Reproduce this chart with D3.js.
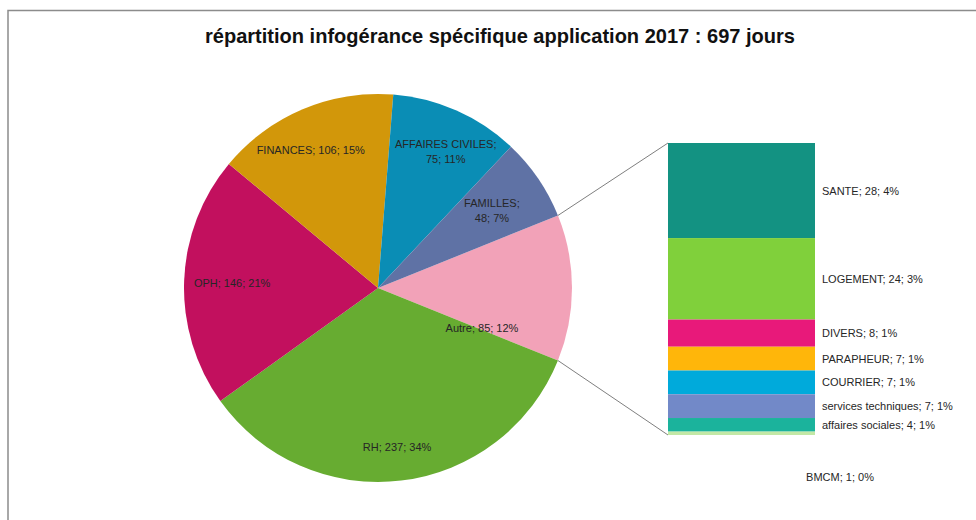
<!DOCTYPE html>
<html>
<head>
<meta charset="utf-8">
<script src="https://cdn.jsdelivr.net/npm/d3@7"></script>
<style>
  body { margin: 0; background: #fff; }
  svg { display: block; font-family: "Liberation Sans", Arial, sans-serif; }
</style>
</head>
<body>
<svg id="chart" width="976" height="520"></svg>
<script>
// main pie
const pieNames = ["Autre", "RH", "OPH", "FINANCES", "AFFAIRES CIVILES", "FAMILLES"];
const pieValues = [85, 237, 146, 106, 75, 48];
const piePercents = ["12%", "34%", "21%", "15%", "11%", "7%"];
const pieColors = ["#f2a2b8", "#67ac31", "#c2105e", "#d2970a", "#0a8db5", "#5f72a5"];

// bar detail of "Autre"
const barNames = ["SANTE", "LOGEMENT", "DIVERS", "PARAPHEUR", "COURRIER", "services techniques", "affaires sociales", "BMCM"];
const barValues = [28, 24, 8, 7, 7, 7, 4, 1];
const barPercents = ["4%", "3%", "1%", "1%", "1%", "1%", "1%", "0%"];
const barColors = ["#139282", "#80d03b", "#e8197a", "#ffb60a", "#00aadb", "#7289c8", "#1bb39c", "#c3e8a6"];

const title = "répartition infogérance spécifique application 2017 : 697 jours";

const svg = d3.select("#chart");
const W = 976, H = 520;

// frame
svg.append("path")
  .attr("d", `M8,${H} V10.5 H${W}`)
  .attr("fill", "none")
  .attr("stroke", "#8c8c8c")
  .attr("stroke-width", 1.5);

svg.append("text")
  .attr("x", 500)
  .attr("y", 43)
  .attr("text-anchor", "middle")
  .attr("font-size", 21)
  .attr("font-weight", "bold")
  .attr("fill", "#111")
  .attr("textLength", 590)
  .attr("lengthAdjust", "spacingAndGlyphs")
  .text(title);

const cx = 378, cy = 288, R = 194;
const total = d3.sum(pieValues);
const autreSpan = pieValues[0] / total * 2 * Math.PI;

// Autre is centred on 3 o'clock, the rest follow clockwise
const pie = d3.pie().sort(null).value(d => d)
  .startAngle(Math.PI / 2 - autreSpan / 2)
  .endAngle(Math.PI / 2 - autreSpan / 2 + 2 * Math.PI);
const arcs = pie(pieValues);
const arc = d3.arc().innerRadius(0).outerRadius(R);

const g = svg.append("g").attr("transform", `translate(${cx},${cy})`);
g.selectAll("path.slice")
  .data(arcs)
  .join("path")
  .attr("class", "slice")
  .attr("d", arc)
  .attr("fill", (d, i) => pieColors[i]);

// label placement tweaks (Excel style)
const labelRadius = [150, 160, 146, 150, 150, 138];
const labelNudge = [[-46, 40], [0, 0], [0, 0], [-9, 0], [7, 0], [0, 0]];
const labelWrap = [false, false, false, false, true, true];

arcs.forEach((d, i) => {
  const a = (d.startAngle + d.endAngle) / 2;
  const x = Math.sin(a) * labelRadius[i] + labelNudge[i][0];
  const y = -Math.cos(a) * labelRadius[i] + labelNudge[i][1];
  const t = g.append("text")
    .attr("text-anchor", "middle")
    .attr("font-size", 11)
    .attr("fill", "#262626");
  if (labelWrap[i]) {
    t.append("tspan").attr("x", x).attr("y", y - 3).text(pieNames[i] + ";");
    t.append("tspan").attr("x", x).attr("y", y + 12).text(pieValues[i] + "; " + piePercents[i]);
  } else {
    t.attr("x", x).attr("y", y + 4)
      .text(pieNames[i] + "; " + pieValues[i] + "; " + piePercents[i]);
  }
});

// stacked bar
const barX = 668, barW = 147;
const y = d3.scaleLinear().domain([0, d3.sum(barValues)]).range([143, 435]);
const cum = d3.cumsum([0].concat(barValues));

svg.selectAll("rect.seg")
  .data(barValues)
  .join("rect")
  .attr("class", "seg")
  .attr("x", barX)
  .attr("width", barW)
  .attr("y", (d, i) => y(cum[i]))
  .attr("height", (d, i) => y(cum[i + 1]) - y(cum[i]))
  .attr("fill", (d, i) => barColors[i]);

const barLabelNudge = [0, 0, 0, 0, 0, 0, 0, 44];
svg.selectAll("text.seg")
  .data(barValues)
  .join("text")
  .attr("class", "seg")
  .attr("x", (d, i) => i === barValues.length - 1 ? 840 : 822)
  .attr("text-anchor", (d, i) => i === barValues.length - 1 ? "middle" : "start")
  .attr("y", (d, i) => (y(cum[i]) + y(cum[i + 1])) / 2 + 4 + barLabelNudge[i])
  .attr("font-size", 11)
  .attr("fill", "#262626")
  .text((d, i) => barNames[i] + "; " + d + "; " + barPercents[i]);

// connector lines from the Autre slice edges to the bar
const a0 = arcs[0].startAngle, a1 = arcs[0].endAngle;
[[a0, y.range()[0]], [a1, y.range()[1]]].forEach(([a, by]) => {
  svg.append("line")
    .attr("x1", cx + Math.sin(a) * R)
    .attr("y1", cy - Math.cos(a) * R)
    .attr("x2", barX)
    .attr("y2", by)
    .attr("stroke", "#7f7f7f")
    .attr("stroke-width", 1);
});
</script>
</body>
</html>
